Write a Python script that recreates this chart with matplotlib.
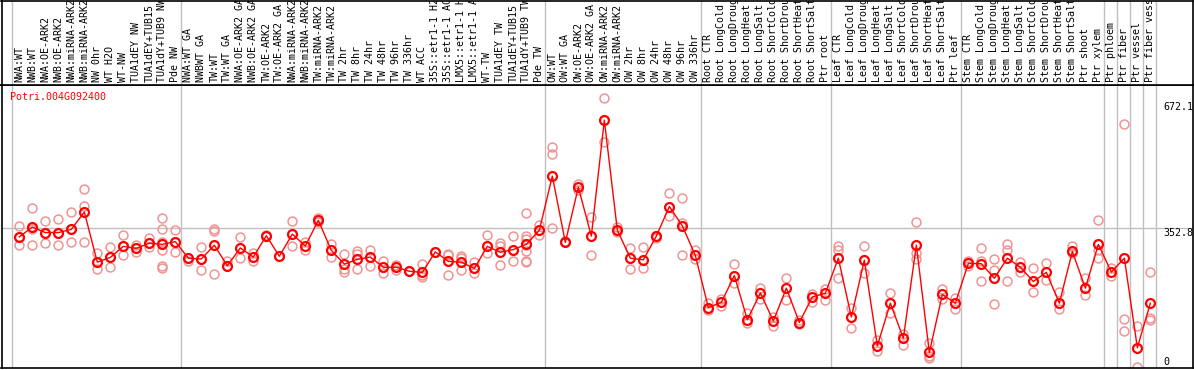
import matplotlib
matplotlib.use('Agg')
import matplotlib.pyplot as plt

gene = 'Potri.004G092400'

labels = [
  'NWA:WT', 'NWB:WT', 'NWA:OE-ARK2', 'NWB:OE-ARK2', 'NWA:miRNA-ARK2', 'NWB:miRNA-ARK2',
  'NW 0hr', 'WT H2O', 'WT-NW', 'TUA1dEY NW', 'TUA1dEY+TUB15', 'TUA1dY+TUB9 NW', 'Pde NW',
  'NWA:WT GA', 'NWBWT GA', 'TW:WT', 'TW:WT GA', 'NWA:OE-ARK2 GA', 'NWB:OE-ARK2 GA',
  'TW:OE-ARK2', 'TW:OE-ARK2 GA', 'NWA:miRNA-ARK2', 'NWB:miRNA-ARK2', 'TW:miRNA-ARK2',
  'TW:miRNA-ARK2', 'TW 2hr', 'TW 8hr', 'TW 24hr', 'TW 48hr', 'TW 96hr', 'TW 336hr', 'WT ACC',
  '35S::etr1-1 H2', '35S::etr1-1 AC', 'LMX5::etr1-1 H', 'LMX5::etr1-1 A', 'WT-TW',
  'TUA1dEY TW', 'TUA1dEY+TUB15', 'TUA1dY+TUB9 TW', 'Pde TW',
  'OW:WT', 'OW:WT GA', 'OW:OE-ARK2', 'OW:OE-ARK2 GA', 'OW:miRNA-ARK2', 'OW:miRNA-ARK2',
  'OW 2hr', 'OW 8hr', 'OW 24hr', 'OW 48hr', 'OW 96hr', 'OW 336hr',
  'Root CTR', 'Root LongCold', 'Root LongDroug', 'Root LongHeat', 'Root LongSalt',
  'Root ShortCold', 'Root ShortDrou', 'Root ShortHeat', 'Root ShortSalt', 'Ptr root',
  'Leaf CTR', 'Leaf LongCold', 'Leaf LongDroug', 'Leaf LongHeat', 'Leaf LongSalt',
  'Leaf ShortCold', 'Leaf ShortDrou', 'Leaf ShortHeat', 'Leaf ShortSalt', 'Ptr leaf',
  'Stem CTR', 'Stem LongCold', 'Stem LongDroug', 'Stem LongHeat', 'Stem LongSalt',
  'Stem ShortCold', 'Stem ShortDrou', 'Stem ShortHeat', 'Stem ShortSalt', 'Ptr shoot',
  'Ptr xylem', 'Ptr phloem', 'Ptr fiber', 'Ptr vessel', 'Ptr fiber vess',
]

# mean expression per sample
means = [
  331, 356, 342, 342, 350, 394, 267, 279, 307, 302, 315, 312, 319,
  277, 275, 310, 258, 303, 280, 334, 282, 338, 308, 373, 297, 262, 274, 280, 254, 254,
  244, 241, 293, 269, 267, 251, 307, 292, 299, 312, 348,
  485, 317, 457, 333, 627, 348, 277, 273, 333, 408, 359, 284,
  152, 165, 233, 121, 189, 118, 201, 114, 179, 188,
  277, 128, 272, 55, 163, 74, 310, 38, 185, 163,
  264, 263, 226, 277, 254, 218, 241, 163, 294, 201,
  312, 242, 277, 50, 163,
]

# individual replicates per sample
replicates = [
  [359, 331, 310], [404, 351, 310], [371, 342, 315], [376, 342, 310], [394, 350, 317],
  [452, 409, 317], [290, 267, 249], [305, 279, 255], [336, 307, 285], [311, 302, 292],
  [327, 315, 305], [379, 351, 319, 299, 257, 253], [348, 319, 292],
  [277, 271], [305, 275, 246], [352, 345, 238], [269, 258], [331, 277], [289, 271],
  [337, 334], [282], [371, 308], [317, 299], [378, 370], [313, 281], [288, 250, 242],
  [294, 288, 249], [299, 258], [269, 240], [261, 247], [244], [263, 234, 229], [293],
  [288, 285, 234], [283, 278, 246], [267, 239], [336, 290], [315, 307, 259], [333, 269],
  [391, 333, 326, 310, 294, 271, 268], [361, 336],
  [559, 542, 354], [321, 317], [466, 451], [381, 286], [682, 572], [356, 343],
  [302, 249], [305, 251], [333, 327], [441, 383], [429, 367, 284], [299, 274],
  [164, 146], [174, 156], [262, 215], [139, 112], [201, 173], [129, 105], [226, 171],
  [120, 110], [186, 167], [200, 172],
  [309, 299, 226], [150, 100], [308, 239], [69, 41], [188, 137], [85, 56],
  [368, 289, 275], [61, 30, 23], [199, 174], [176, 147],
  [271, 256], [302, 269, 218], [274, 246, 160], [313, 299, 218], [267, 243],
  [251, 191], [265, 223], [191, 147], [308, 289], [226, 183],
  [373, 298, 278], [253, 233], [616, 122, 92], [104, 0], [241, 125, 120],
]

# last sample index of each group (separator drawn after it)
group_ends = [-1, 12, 40, 52, 62, 72, 83, 84, 85, 86, 87]

y_ticks = [0, 352.8, 672.1]

W, H = 1194, 370
fig = plt.figure(figsize=(W / 100, H / 100), dpi=100)

left = 1.5 / W
width = (1193 - 1.5) / W
ax = fig.add_axes([left, 2 / H, width, (368 - 85) / H])
hx = fig.add_axes([left, (H - 85) / H, width, 84 / H], sharex=ax)

xs = list(range(len(labels)))
ax.set_xlim(-1.37, 90.28)
ax.set_ylim(-1.3, 716)
hx.set_ylim(0, 1)

for a in (ax, hx):
  a.set_xticks([])
  a.set_yticks([])
  for s in a.spines.values():
    s.set_color('black')
    s.set_linewidth(1.2)
  for g in group_ends:
    a.axvline(g + 0.4, color='#c0c0c0', lw=1.0, zorder=0)

ax.axhline(352.8, color='#c0c0c0', lw=1.0, zorder=0)

# replicates
for x, reps in zip(xs, replicates):
  ax.plot([x] * len(reps), reps, linestyle='none', marker='o', ms=6.4,
          mfc='none', mec='#f09494', mew=1.1, zorder=2, clip_on=True)

# mean line
ax.plot(xs, means, color='#ff0000', lw=1.0, marker='o', ms=6.4, mfc='none',
        mec='#ff0000', mew=1.6, zorder=3)

mono = 'DejaVu Sans Mono'
ax.text(8.5 / (1191.5), 0.977, gene, transform=ax.transAxes, color='#ff0000',
        family=mono, fontsize=7.2, ha='left', va='top')

tx = (1163 - 19.3) / 13
for v in y_ticks:
  if v == 0:
    ax.text(tx, v + 1, '0', family=mono, fontsize=7.2, ha='left', va='bottom')
  else:
    ax.text(tx, v, f'{v}', family=mono, fontsize=7.2, ha='left', va='top')

for x, lab in zip(xs, labels):
  hx.text(x, 0.035, lab, rotation=90, ha='center', va='bottom', family=mono,
          fontsize=7.2, clip_on=True)

fig.savefig('out.png', dpi=100)
